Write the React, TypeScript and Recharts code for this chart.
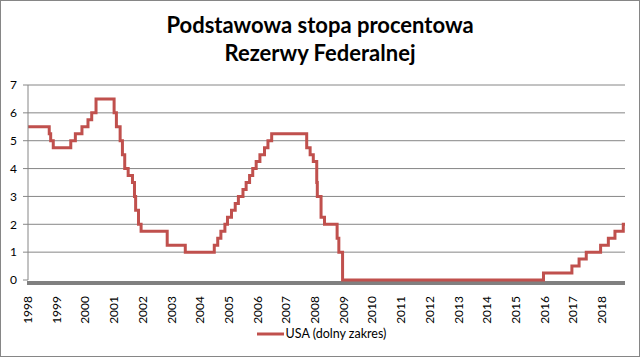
import React from 'react';
import {
    LineChart,
    Line,
    XAxis,
    YAxis,
    CartesianGrid,
    Legend
} from 'recharts';

// Fed funds target, lower bound: step change points (decimal year) and rate (%)
const changeDates = [
    1998.0, 1998.74, 1998.79, 1998.88, 1999.49, 1999.65, 1999.88, 2000.09, 2000.22, 2000.37,
    2001.0, 2001.08, 2001.21, 2001.29, 2001.37, 2001.49, 2001.64, 2001.71, 2001.75, 2001.85,
    2001.94, 2002.85, 2003.48, 2004.49, 2004.61, 2004.72, 2004.86, 2004.95, 2005.09, 2005.22,
    2005.33, 2005.49, 2005.6, 2005.72, 2005.83, 2005.95, 2006.08, 2006.24, 2006.36, 2006.49,
    2007.71, 2007.83, 2007.94, 2008.06, 2008.08, 2008.21, 2008.33, 2008.77, 2008.83, 2008.96,
    2015.96, 2016.95, 2017.2, 2017.45, 2017.95, 2018.22, 2018.45, 2018.74, 2018.8
];
const rates = [
    5.5, 5.25, 5.0, 4.75, 5.0, 5.25, 5.5, 5.75, 6.0, 6.5,
    6.0, 5.5, 5.0, 4.5, 4.0, 3.75, 3.5, 3.0, 2.5, 2.0,
    1.75, 1.25, 1.0, 1.25, 1.5, 1.75, 2.0, 2.25, 2.5, 2.75,
    3.0, 3.25, 3.5, 3.75, 4.0, 4.25, 4.5, 4.75, 5.0, 5.25,
    4.75, 4.5, 4.25, 3.5, 3.0, 2.25, 2.0, 1.5, 1.0, 0,
    0.25, 0.5, 0.75, 1.0, 1.25, 1.5, 1.75, 2.0, 2.0
];
const yearTicks = [
    1998, 1999, 2000, 2001, 2002, 2003, 2004, 2005, 2006, 2007, 2008,
    2009, 2010, 2011, 2012, 2013, 2014, 2015, 2016, 2017, 2018
];
const rateTicks = [0, 1, 2, 3, 4, 5, 6, 7];

const seriesName = 'USA (dolny zakres)';
const titleLines = ['Podstawowa stopa procentowa', 'Rezerwy Federalnej'];

const data = changeDates.map((d, i) => ({ date: d, rate: rates[i] }));

const font = 'Lato, "Liberation Sans", sans-serif';
const lineColor = '#C0504D';

const YearTick = ({ x, y, payload }: any) => (
    <text
        x={0}
        y={0}
        transform={`translate(${x + 4},${y + 8}) rotate(-90)`}
        textAnchor="end"
        fontSize={12}
        fontFamily={font}
        fill="#000"
    >
        {payload.value}
    </text>
);

// gridlines; the bottom one (value 0) becomes the thick grey axis bar, drawn just below the zero line
const GridLine = (p: any) => {
    const isBase = Math.abs(p.y1 - (p.y + p.height)) < 1;
    if (isBase) {
        return <line key={p.key} x1={p.x1 - 1} x2={p.x2} y1={p.y1 + 3} y2={p.y2 + 3} stroke="#808080" strokeWidth={4} />;
    }
    return <line key={p.key} x1={p.x1} x2={p.x2} y1={p.y1} y2={p.y2} stroke="#868686" strokeWidth={1} />;
};

const LegendContent = ({ payload }: any) => (
    <div style={{ display: 'flex', justifyContent: 'center', alignItems: 'center', paddingLeft: 18, paddingTop: 2 }}>
        {(payload || []).map((entry: any) => (
            <div key={entry.value} style={{ display: 'flex', alignItems: 'center' }}>
                <svg width={27} height={6} style={{ marginRight: 2 }}>
                    <line x1={0} x2={27} y1={3} y2={3} stroke={lineColor} strokeWidth={3} />
                </svg>
                <span style={{ fontFamily: font, fontSize: 12.5, color: '#000' }}>{entry.value}</span>
            </div>
        ))}
    </div>
);

export default function App() {
    return (
        <div style={{ position: 'absolute', left: 0, top: 0, width: 640, height: 357, background: '#fff' }}>
            <div
                style={{
                    position: 'absolute',
                    left: 0,
                    top: 11,
                    width: 640,
                    textAlign: 'center',
                    fontFamily: font,
                    fontWeight: 700,
                    fontSize: 22,
                    lineHeight: '28px',
                    color: '#000'
                }}
            >
                {titleLines.map((t) => (
                    <div key={t}>{t}</div>
                ))}
            </div>
            <div style={{ position: 'absolute', left: 0, top: 0 }}>
                <LineChart
                    width={640}
                    height={357}
                    data={data}
                    margin={{ top: 85, right: 15, bottom: 1, left: 0 }}
                >
                    <CartesianGrid horizontal={GridLine} vertical={false} />
                    <XAxis
                        dataKey="date"
                        type="number"
                        domain={[1998, 2018.8]}
                        ticks={yearTicks}
                        interval={0}
                        height={44}
                        tick={<YearTick />}
                        tickLine={false}
                        axisLine={false}
                    />
                    <YAxis
                        width={28}
                        domain={[0, 7]}
                        ticks={rateTicks}
                        tickSize={5}
                        tickMargin={6}
                        tickLine={{ stroke: '#868686' }}
                        axisLine={{ stroke: '#868686' }}
                        tick={{ fontSize: 12, fill: '#000', fontFamily: font }}
                    />
                    <Legend verticalAlign="bottom" height={32} content={<LegendContent />} />
                    <Line
                        name={seriesName}
                        dataKey="rate"
                        type="stepAfter"
                        stroke={lineColor}
                        strokeWidth={3}
                        dot={false}
                        isAnimationActive={false}
                    />
                </LineChart>
            </div>
            <div
                style={{
                    position: 'absolute',
                    left: 0,
                    top: 0,
                    width: 640,
                    height: 357,
                    boxSizing: 'border-box',
                    border: '1px solid #868686',
                    pointerEvents: 'none'
                }}
            />
        </div>
    );
}
